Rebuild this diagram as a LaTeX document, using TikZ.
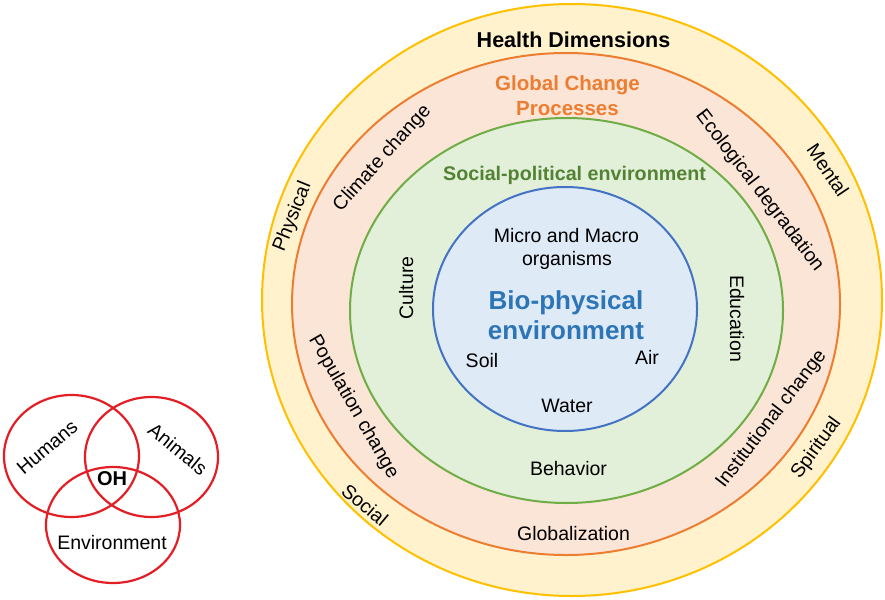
\documentclass[tikz,border=0pt]{standalone}
\usepackage{fontspec}
\setmainfont{Liberation Sans}
\definecolor{ylwS}{HTML}{FFC000}
\definecolor{ylwF}{HTML}{FFF2CC}
\definecolor{orgS}{HTML}{ED7D31}
\definecolor{orgF}{HTML}{FBE5D6}
\definecolor{grnS}{HTML}{70AD47}
\definecolor{grnF}{HTML}{E2F0D9}
\definecolor{grnT}{HTML}{548235}
\definecolor{bluS}{HTML}{4472C4}
\definecolor{bluF}{HTML}{DEEBF7}
\definecolor{bluT}{HTML}{2E75B6}
\definecolor{vennR}{HTML}{E41E26}
\begin{document}
\begin{tikzpicture}[x=1pt,y=-1pt,
  lbl/.style={font=\fontsize{19.5}{22}\selectfont, inner sep=0pt, text height=14pt, text depth=0pt},
  hdim/.style={font=\bfseries\fontsize{21.5}{24}\selectfont, inner sep=0pt, text height=15.4pt, text depth=0pt},
  gcp/.style={font=\bfseries\fontsize{20.5}{23}\selectfont, text=orgS, inner sep=0pt, text height=14.7pt, text depth=0pt},
  spe/.style={font=\bfseries\fontsize{19.7}{22}\selectfont, text=grnT, inner sep=0pt, text height=14.1pt, text depth=0pt},
  bio/.style={font=\bfseries\fontsize{26}{30}\selectfont, text=bluT, inner sep=0pt, text height=18.6pt, text depth=0pt},
  ohlbl/.style={font=\bfseries\fontsize{20}{22}\selectfont, inner sep=0pt, text height=14.3pt, text depth=0pt},
  ring/.style={line width=2pt},
  venn/.style={draw=vennR, line width=2.2pt}]
\useasboundingbox (0,0) rectangle (885,599);
\fill[white] (0,0) rectangle (885,599);
% rings
\draw[ring, draw=ylwS, fill=ylwF] (572,300) ellipse [x radius=310pt, y radius=296pt];
\draw[ring, draw=orgS, fill=orgF] (566,304) ellipse [x radius=274pt, y radius=251pt];
\draw[ring, draw=grnS, fill=grnF] (566.5,310.5) ellipse [x radius=216.5pt, y radius=192.5pt];
\draw[ring, draw=bluS, fill=bluF] (565,309) ellipse [x radius=132pt, y radius=122pt];
% health dimensions ring
\node[hdim] (hd) at (573.5,40) {Health Dimensions};
\node[lbl, rotate=68] (phys) at (291,216) {Physical};
\node[lbl, rotate=-56] (ment) at (828,170) {Mental};
\node[lbl, rotate=-40] (soc) at (365,505) {Social};
\node[lbl, rotate=54] (spir) at (815,447) {Spiritual};
% global change ring
\node[gcp] (gc1) at (567.5,83) {Global Change};
\node[gcp] (gc2) at (567.5,108) {Processes};
\node[lbl, rotate=48] (clim) at (381,157) {Climate change};
\node[lbl, rotate=-52.5] (eco) at (761,190) {Ecological degradation};
\node[lbl, rotate=-60] (pop) at (355,406) {Population change};
\node[lbl, rotate=52.5] (inst) at (770,418) {Institutional change};
\node[lbl] (glob) at (573.5,533) {Globalization};
% social-political ring
\node[spe] (sp) at (574.5,173) {Social-political environment};
\node[lbl, rotate=90] (cult) at (406,288) {Culture};
\node[lbl, rotate=-90] (edu) at (737,318.5) {Education};
\node[lbl] (beh) at (568.5,468) {Behavior};
% bio-physical core
\node[lbl] (mm1) at (566.5,235) {Micro and Macro};
\node[lbl] (mm2) at (567,258) {organisms};
\node[bio] (bp1) at (566,300) {Bio-physical};
\node[bio] (bp2) at (566,330) {environment};
\node[lbl] (soil) at (482,360) {Soil};
\node[lbl] (air) at (647,357) {Air};
\node[lbl] (wat) at (567,405) {Water};
% one health venn
\draw[venn] (71.5,456) ellipse [x radius=67.5pt, y radius=61pt];
\draw[venn] (151.5,457) ellipse [x radius=66.5pt, y radius=60pt];
\draw[venn] (113,525) ellipse [x radius=67pt, y radius=58pt];
\node[lbl, rotate=40.5] (hum) at (47,447) {Humans};
\node[lbl, rotate=-39] (ani) at (178,449) {Animals};
\node[ohlbl] (oh) at (112,478) {OH};
\node[lbl] (env) at (112,542) {Environment};
\end{tikzpicture}
\end{document}
